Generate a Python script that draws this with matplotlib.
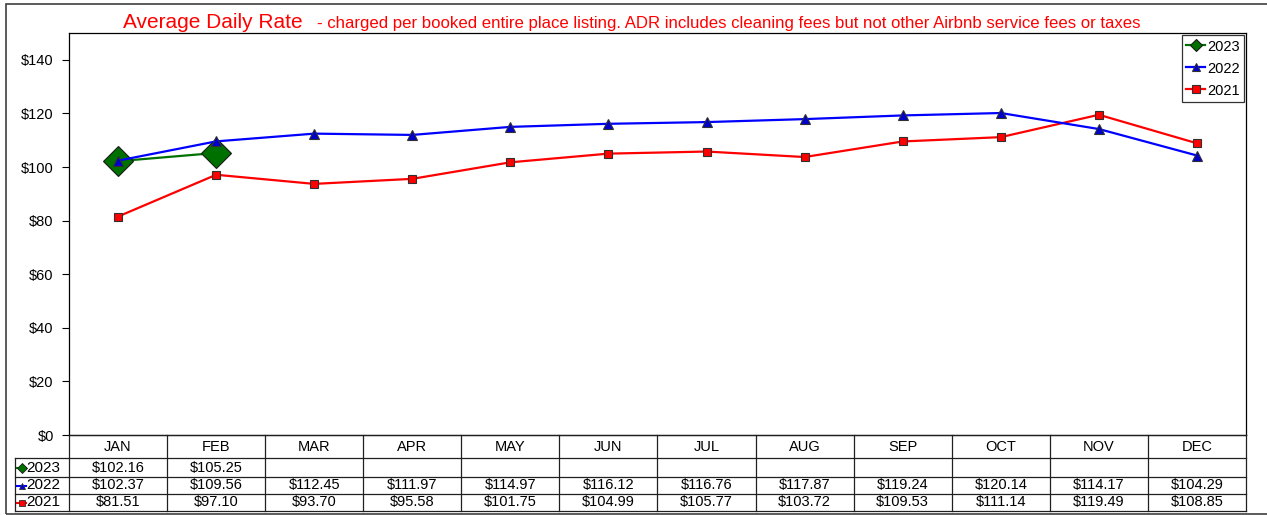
import matplotlib
matplotlib.use("Agg")
import matplotlib.pyplot as plt
from matplotlib.lines import Line2D
from matplotlib.patches import Rectangle

plt.rcParams['font.family'] = ['Liberation Sans', 'DejaVu Sans']

months = ["JAN", "FEB", "MAR", "APR", "MAY", "JUN", "JUL", "AUG", "SEP", "OCT", "NOV", "DEC"]
years = ["2023", "2022", "2021"]
adr_2023 = [102.16, 105.25]
adr_2022 = [102.37, 109.56, 112.45, 111.97, 114.97, 116.12, 116.76, 117.87, 119.24, 120.14, 114.17, 104.29]
adr_2021 = [81.51, 97.10, 93.70, 95.58, 101.75, 104.99, 105.77, 103.72, 109.53, 111.14, 119.49, 108.85]
yticks = [0, 20, 40, 60, 80, 100, 120, 140]

W, H = 1267, 515
fig = plt.figure(figsize=(W / 100, H / 100), dpi=100)


def fx(px):
    return px / W


def fy(py):
    return 1 - py / H


# outer frame
fig.patches.append(Rectangle((fx(6), fy(513.5)), fx(1270) - fx(6), fy(4) - fy(513.5),
                             transform=fig.transFigure, fill=False,
                             edgecolor='#404040', lw=1.2))

L, R, T, B = 69, 1246, 33, 435
ax = fig.add_axes([fx(L), fy(B), fx(R) - fx(L), fy(T) - fy(B)])
ax.set_xlim(-0.5, 11.5)
ax.set_ylim(0, 150)
ax.set_yticks(yticks)
ax.set_yticklabels([f"${v}" for v in yticks], fontsize=10.5)
ax.tick_params(axis='y', length=5, width=0.8, pad=6, direction='out')
ax.set_xticks([])
for s in ax.spines.values():
    s.set_linewidth(0.9)
    s.set_color('black')

styles = {
    "2023": dict(color='#007000', marker='D', mfc='#007000', mec='#1a1a1a', ms=15, lw=1.6),
    "2022": dict(color='#0000FF', marker='^', mfc='#0000CC', mec='#303030', ms=6.5, lw=1.6),
    "2021": dict(color='#FF0000', marker='s', mfc='#FF0000', mec='#303030', ms=6, lw=1.6),
}
series = {"2023": adr_2023, "2022": adr_2022, "2021": adr_2021}

x_idx = list(range(len(months)))
for yr in ["2023", "2021", "2022"]:
    vals = series[yr]
    st = dict(styles[yr])
    ax.plot(x_idx[:len(vals)], vals, mew=0.8, **st, zorder=3)

# legend
handles = []
for yr in years:
    st = dict(styles[yr])
    st['ms'] = 6
    handles.append(Line2D([0], [0], mew=0.8, label=yr, **st))
leg = ax.legend(handles=handles, loc='upper right', fontsize=10.5, frameon=True,
                fancybox=False, edgecolor='black', borderaxespad=0.15,
                handlelength=1.3, handletextpad=0.1, borderpad=0.3,
                labelspacing=0.55, numpoints=1)
leg.get_frame().set_linewidth(0.9)

# data table
cw = (R - L) / 12.0
TL = 15
TB = 511
tax = fig.add_axes([fx(TL), fy(TB), fx(R) - fx(TL), fy(B) - fy(TB)])
x_left = -0.5 - (L - TL) / cw
tax.set_xlim(x_left, 11.5)
tax.set_ylim(TB, B)
tax.axis('off')
rows = [B, 458, 477, 494, TB]
lc = '#202020'
lw = 0.9
tax.plot([-0.5, 11.5], [rows[0], rows[0]], color=lc, lw=lw, clip_on=False)
for yv in rows[1:]:
    tax.plot([x_left, 11.5], [yv, yv], color=lc, lw=lw, clip_on=False)
for i in range(13):
    tax.plot([i - 0.5, i - 0.5], [rows[0], rows[-1]], color=lc, lw=lw, clip_on=False)
tax.plot([x_left, x_left], [rows[1], rows[-1]], color=lc, lw=lw, clip_on=False)

for i, m in enumerate(months):
    tax.text(i, rows[1] - 7, m, ha='center', va='baseline', fontsize=10.5)

for r, yr in enumerate(years):
    ybase = rows[r + 2] - 5
    yc = (rows[r + 1] + rows[r + 2]) / 2
    vals = series[yr]
    for i, v in enumerate(vals):
        tax.text(i, ybase, f"${v:.2f}", ha='center', va='baseline', fontsize=10.5)
    st = dict(styles[yr])
    mk = st.pop('marker')
    mfc = st.pop('mfc')
    mec = st.pop('mec')
    col = st.pop('color')
    tax.plot([x_left + 1.5 / cw, x_left + 11.5 / cw], [yc, yc], color=col, lw=1.5, clip_on=False)
    tax.plot([x_left + 6.5 / cw], [yc], marker=mk, mfc=mfc, mec=mec, ms=4.6, mew=0.6,
             linestyle='none', clip_on=False)
    tax.text(x_left + 11.5 / cw, ybase, yr, ha='left', va='baseline', fontsize=11)

# title
renderer = fig.canvas.get_renderer()
t1 = fig.text(fx(123), fy(28), "Average Daily Rate", color='#FF0000', fontsize=15,
              ha='left', va='baseline')
bb = t1.get_window_extent(renderer)
fig.text(bb.x1 / W + 14 / W, fy(28),
         "- charged per booked entire place listing. ADR includes cleaning fees but not other Airbnb service fees or taxes",
         color='#FF0000', fontsize=12.1, ha='left', va='baseline')

fig.savefig("out.png", dpi=100)
